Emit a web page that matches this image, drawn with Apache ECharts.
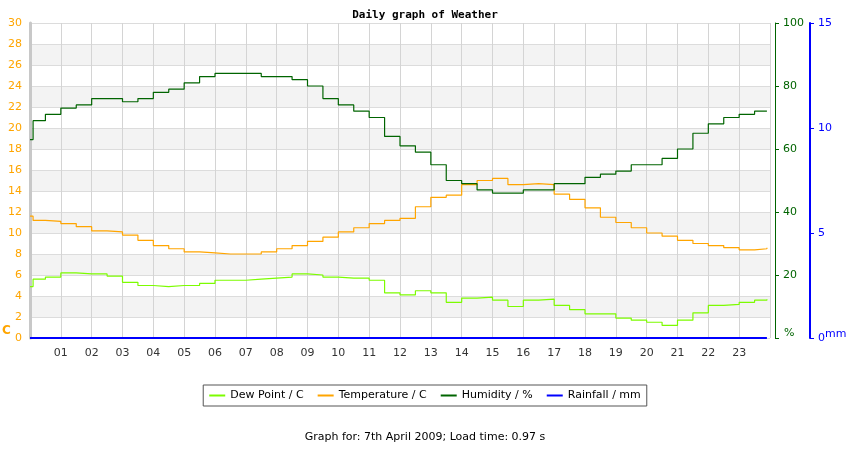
<!DOCTYPE html>
<html><head><meta charset="utf-8">
<script src="https://cdn.jsdelivr.net/npm/echarts@6/dist/echarts.min.js"></script>
<style>body{margin:0;background:#fff}#c{width:850px;height:450px}</style></head>
<body><div id="c"></div>
<script>
const hours=[0,0.1,0.5,1,1.5,2,2.5,3,3.5,4,4.5,5,5.5,6,6.5,7,7.5,8,8.5,9,9.5,10,10.5,11,11.5,12,12.5,13,13.5,14,14.5,15,15.5,16,16.5,17,17.5,18,18.5,19,19.5,20,20.5,21,21.5,22,22.5,23,23.5,23.9];
const temperature=[11.6,11.2,11.1,10.9,10.6,10.2,10.1,9.8,9.3,8.8,8.5,8.2,8.1,8.0,8.0,8.0,8.2,8.5,8.8,9.2,9.6,10.1,10.5,10.9,11.2,11.4,12.5,13.4,13.6,14.6,15.0,15.2,14.6,14.7,14.6,13.7,13.2,12.4,11.5,11.0,10.5,10.0,9.7,9.3,9.0,8.8,8.6,8.4,8.5,8.6];
const dewPoint=[4.9,5.6,5.8,6.2,6.1,6.1,5.9,5.3,5.0,4.9,5.0,5.0,5.2,5.5,5.5,5.6,5.7,5.8,6.1,6.0,5.8,5.7,5.7,5.5,4.3,4.1,4.5,4.3,3.4,3.8,3.9,3.6,3.0,3.6,3.7,3.1,2.7,2.3,2.3,1.9,1.7,1.5,1.2,1.7,2.4,3.1,3.2,3.4,3.6,3.7];
const humidity=[63,69,71,73,74,76,76,75,76,78,79,81,83,84,84,84,83,83,82,80,76,74,72,70,64,61,59,55,50,49,47,46,46,47,47,49,49,51,52,53,55,55,57,60,65,68,70,71,72,72];
const rainfall=hours.map(()=>0);
const pair=a=>hours.map((h,i)=>[h,a[i]]);
const font='DejaVu Sans';
const ch=echarts.init(document.getElementById('c'));
ch.setOption({
 animation:false,
 title:{text:'Daily graph of Weather',left:'center',top:5,textStyle:{fontFamily:'DejaVu Sans Mono',fontSize:11,fontWeight:'bold',color:'#000'}},
 grid:{left:30,right:80,top:23,bottom:112},
 xAxis:{type:'value',min:0,max:24,interval:1,
  axisLine:{show:false},axisTick:{show:false},
  axisLabel:{fontFamily:font,fontSize:11,color:'#333',margin:10,formatter:v=>(v>0&&v<24)?String(v).padStart(2,'0'):''},
  splitLine:{lineStyle:{color:'#d4d4d4'}}},
 yAxis:[
  {type:'value',min:0,max:30,interval:2,position:'left',
   axisLine:{show:true,lineStyle:{color:'#c8c8c8',width:3}},axisTick:{show:false},
   axisLabel:{color:'#ffa500',fontFamily:font,fontSize:11,margin:8},
   splitLine:{lineStyle:{color:'#dcdcdc'}},splitArea:{show:true,areaStyle:{color:['#ffffff','#f3f3f3']}}},
  {type:'value',min:0,max:100,interval:20,position:'right',offset:5,
   axisLine:{show:true,lineStyle:{color:'#006400',width:1}},axisTick:{show:true,length:4},
   axisLabel:{color:'#006400',fontFamily:font,fontSize:11,formatter:v=>v===0?'':v},splitLine:{show:false}},
  {type:'value',min:0,max:15,interval:5,position:'right',offset:40,
   axisLine:{show:true,lineStyle:{color:'#0000ff',width:2}},axisTick:{show:true,length:4},
   axisLabel:{color:'#0000ff',fontFamily:font,fontSize:11},splitLine:{show:false}}
 ],
 legend:{bottom:44,left:'center',itemWidth:16,itemHeight:2,icon:'rect',borderColor:'#555',borderWidth:1,borderRadius:0,padding:[5,6],itemGap:14,
  textStyle:{fontFamily:font,fontSize:11,color:'#000'},
  data:['Dew Point / C','Temperature / C','Humidity / %','Rainfall / mm']},
 graphic:[
  {type:'text',left:2,top:325,style:{text:'C',fill:'#ffa500',font:'bold 12px DejaVu Sans'}},
  {type:'text',left:784,top:328,style:{text:'%',fill:'#006400',font:'11px DejaVu Sans'}},
  {type:'text',left:825,top:329,style:{text:'mm',fill:'#0000ff',font:'11px DejaVu Sans'}},
  {type:'text',left:'center',top:432,style:{text:'Graph for: 7th April 2009; Load time: 0.97 s',fill:'#000',font:'11px DejaVu Sans'}}
 ],
 series:[
  {name:'Dew Point / C',type:'line',step:'end',yAxisIndex:0,data:pair(dewPoint),showSymbol:false,color:'#7cfc00',lineStyle:{width:1.2}},
  {name:'Temperature / C',type:'line',step:'end',yAxisIndex:0,data:pair(temperature),showSymbol:false,color:'#ffa500',lineStyle:{width:1.2}},
  {name:'Humidity / %',type:'line',step:'end',yAxisIndex:1,data:pair(humidity),showSymbol:false,color:'#006400',lineStyle:{width:1.2}},
  {name:'Rainfall / mm',type:'line',step:'end',yAxisIndex:2,data:pair(rainfall),showSymbol:false,color:'#0000ff',lineStyle:{width:2}}
 ]
});
</script></body></html>
